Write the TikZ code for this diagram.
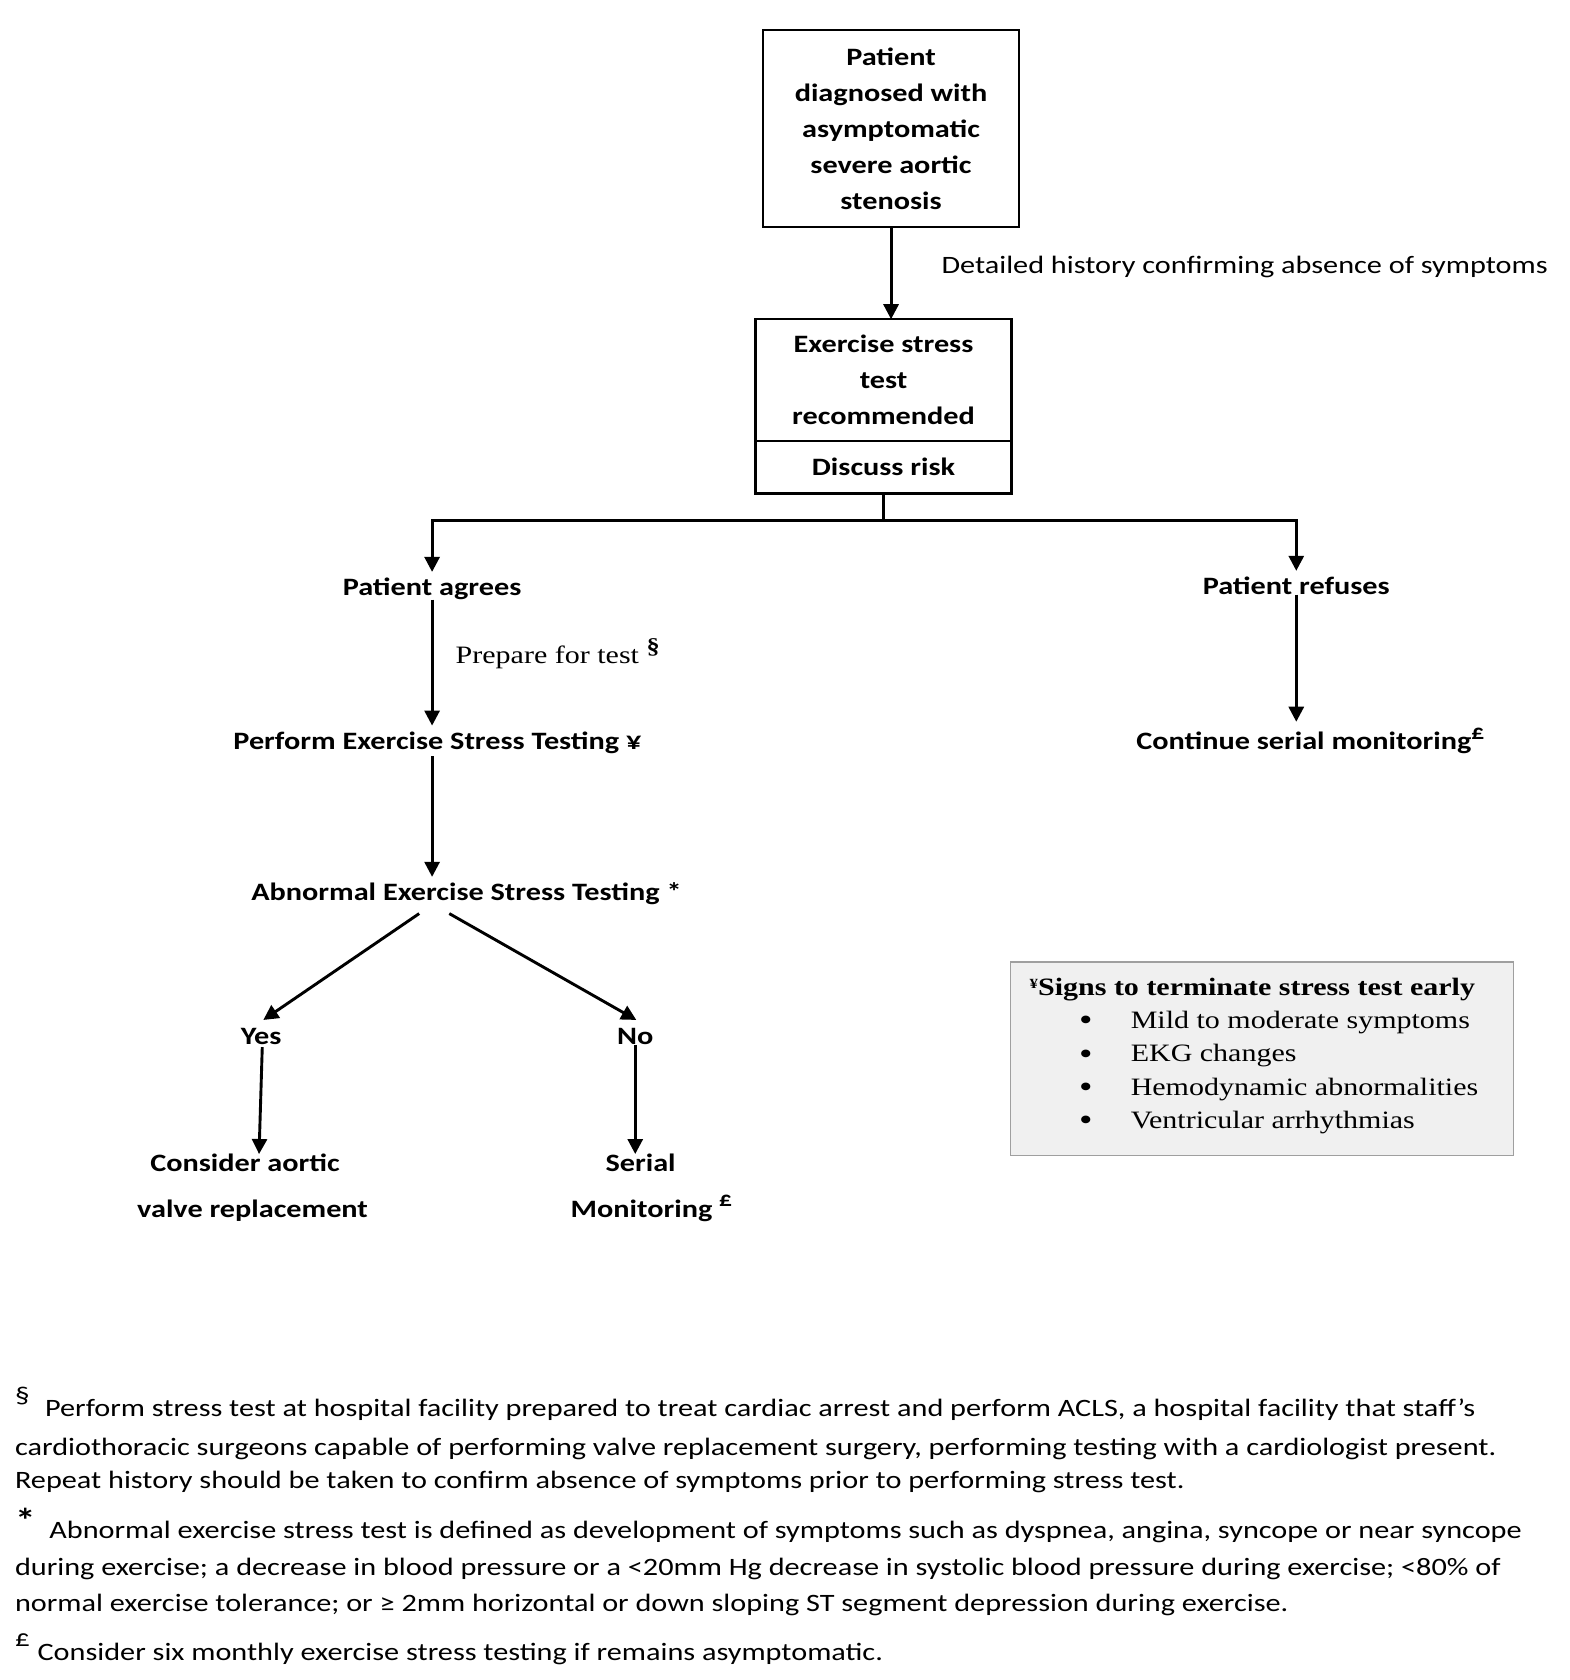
\documentclass[tikz,border=0pt]{standalone}
\usepackage{fontspec}
\setmainfont{Carlito}[FakeStretch=1.21]
\newfontfamily\tnr{Liberation Serif}[FakeStretch=1.2]
\usetikzlibrary{arrows.meta,calc,fit}
\newcommand{\supsym}[3][9pt]{\raisebox{#1}{\fontsize{#2}{#2}\selectfont #3}}
\begin{document}
\begin{tikzpicture}[x=1.0747pt,y=-1.0747pt,
  every node/.style={inner sep=0pt,outer sep=0pt},
  fc/.style={font=\fontsize{25}{36}\selectfont\bfseries},
  lbl/.style={font=\fontsize{25}{30}\selectfont},
  fn/.style={font=\fontsize{25}{30}\selectfont, anchor=base west},
  fsym/.style={font=\fontsize{24}{30}\selectfont, anchor=base west},
  tms/.style={font=\fontsize{25}{30}\selectfont\tnr, anchor=base west},
  boxd/.style={draw,line width=2.3pt},
  arr/.style={line width=2.9pt,-{Triangle[length=15pt,width=15pt]}},
  ln/.style={line width=2.9pt},
]
\useasboundingbox (0,0) rectangle (1460,1563);
% boxes
\node[boxd,fit={(710,28)(948,211)}] (b1) {};
\node[fc,align=center] (b1t) at (b1.center) {Patient\\diagnosed with\\asymptomatic\\severe aortic\\stenosis};
\node[boxd,fit={(703,297)(941,410)}] (b2) {};
\node[fc,align=center] (b2t) at (b2.center) {Exercise stress\\test\\recommended};
\node[boxd,fit={(703,410)(941,459)}] (b3) {};
\node[fc] (b3t) at (b3.center) {Discuss risk};
\node[lbl,anchor=base west] (dh) at (876,254) {Detailed history confirming absence of symptoms};
% text nodes
\node[fc,anchor=base] (agree) at (402,554) {Patient agrees};
\node[fc,anchor=base] (refuse) at (1206,553) {Patient refuses};
\node[tms] (prep) at (424,617) {Prepare for test \supsym[10pt]{22}{\bfseries §}};
\node[fc,anchor=base] (perf) at (407,697) {Perform Exercise Stress Testing ¥};
\node[fc,anchor=base] (cont) at (1219,697) {Continue serial monitoring\supsym[10pt]{21}{£}};
\node[fc,anchor=base] (abn) at (434,838) {Abnormal Exercise Stress Testing *};
\node[fc,anchor=base] (yes) at (243,972) {Yes};
\node[fc,anchor=base] (no) at (591,972) {No};
\node[fc,anchor=base] (cons) at (228,1090) {Consider aortic};
\node[fc,anchor=base] (valve) at (235,1133) {valve replacement};
\node[fc,anchor=base] (ser) at (596,1090) {Serial};
\node[fc,anchor=base] (mon) at (606,1133) {Monitoring \supsym[11pt]{21}{£}};
% connectors
\draw[arr] (b1.south) -- (b1.south |- b2.north);
\coordinate (j) at ($(b3.south)+(0,25)$);
\draw[ln] (b3.south) -- (j);
\draw[arr,shorten >=6pt] (j) -| (agree.north);
\draw[arr,shorten >=6pt] (j) -| (refuse.north);
\draw[arr,shorten >=6pt] (agree.south) -- (agree.south |- perf.north);
\draw[arr,shorten >=6pt,shorten <=3pt] (perf.south -| agree.south) -- (abn.north -| agree.south);
\draw[arr,shorten >=6pt] (refuse.south) -- (refuse.south |- cont.north);
\draw[arr] ($(abn.south)+(-44,8)$) -- ($(yes.north)+(2,-8)$);
\draw[arr] ($(abn.south)+(-16,8)$) -- ($(no.north)+(1,-8)$);
\draw[arr] ($(yes.south)+(1,2)$) -- ($(cons.north)+(13,0)$);
\draw[arr] (no.south) -- (no.south |- ser.north);
% grey box
\node[draw=gray!75,fill=gray!12,line width=1.5pt,fit={(940,895)(1408,1075)}] (gb) {};
\node[tms,font=\fontsize{25}{30}\selectfont\tnr\bfseries] (gbt) at (958,926) {\raisebox{7pt}{\fontsize{14}{14}\selectfont ¥}Signs to terminate stress test early};
\node[tms,font=\fontsize{32}{30}\selectfont\tnr] (bu1) at (1004,959) {•};
\node[tms] (it1) at (1052,957) {Mild to moderate symptoms};
\node[tms,font=\fontsize{32}{30}\selectfont\tnr] (bu2) at (1004,990) {•};
\node[tms] (it2) at (1052,988) {EKG changes};
\node[tms,font=\fontsize{32}{30}\selectfont\tnr] (bu3) at (1004,1021) {•};
\node[tms] (it3) at (1052,1019) {Hemodynamic abnormalities};
\node[tms,font=\fontsize{32}{30}\selectfont\tnr] (bu4) at (1004,1052) {•};
\node[tms] (it4) at (1052,1050) {Ventricular arrhythmias};
% footnotes
\node[fsym] (s1) at (14,1306) {§};
\node[fn] (f1) at (42,1318) {Perform stress test at hospital facility prepared to treat cardiac arrest and perform ACLS, a hospital facility that staff’s};
\node[fn] (f2) at (14,1354) {cardiothoracic surgeons capable of performing valve replacement surgery, performing testing with a cardiologist present.};
\node[fn] (f3) at (14,1385) {Repeat history should be taken to confirm absence of symptoms prior to performing stress test.};
\node[fsym,font=\fontsize{34}{34}\selectfont\bfseries] (s2) at (14,1426) {*};
\node[fn] (f4) at (46,1431) {Abnormal exercise stress test is defined as development of symptoms such as dyspnea, angina, syncope or near syncope};
\node[fn] (f5) at (14,1466) {during exercise; a decrease in blood pressure or a <20mm Hg decrease in systolic blood pressure during exercise; <80\% of};
\node[fn] (f6) at (14,1499) {normal exercise tolerance; or ≥ 2mm horizontal or down sloping ST segment depression during exercise.};
\node[fsym] (s3) at (14,1532) {£};
\node[fn] (f7) at (35,1545) {Consider six monthly exercise stress testing if remains asymptomatic.};
\end{tikzpicture}
\end{document}
